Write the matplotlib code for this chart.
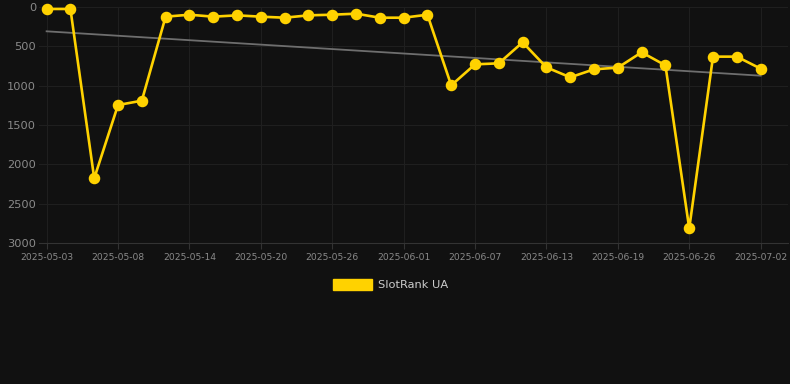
import numpy as np
import matplotlib.pyplot as plt

# rank per data point (lower is better, axis is inverted)
ranks = [25, 25, 2178, 1246, 1191, 123, 98, 123, 106, 123, 136, 106, 98, 85, 136, 136,
         98, 996, 729, 716, 449, 767, 894, 792, 771, 576, 742, 2814, 631, 631, 784]
tick_labels = ["2025-05-03", "2025-05-08", "2025-05-14", "2025-05-20", "2025-05-26",
               "2025-06-01", "2025-06-07", "2025-06-13", "2025-06-19", "2025-06-26",
               "2025-07-02"]
y_ticks = [0, 500, 1000, 1500, 2000, 2500, 3000]
series_name = "SlotRank UA"

bg = "#111111"
gold = "#FFD200"

x = np.arange(len(ranks))
slope, intercept = np.polyfit(x, ranks, 1)

fig = plt.figure(figsize=(7.9, 3.84), dpi=100, facecolor=bg)
ax = fig.add_axes([39 / 790, 1 - 243 / 384, 749 / 790, 236 / 384])
ax.set_facecolor(bg)

ax.plot(x, slope * x + intercept, color="#6e6e6e", lw=1.3, zorder=2)
ax.plot(x, ranks, color=gold, lw=1.9, marker="o", markersize=7.3,
        markerfacecolor=gold, markeredgecolor=gold, zorder=3, clip_on=False)

ax.set_ylim(3000, 0)
ax.set_xlim(-0.32, 31.15)
ax.set_yticks(y_ticks)
ax.set_xticks(x[::3])
ax.set_xticklabels(tick_labels)

ax.grid(True, color="#1f1f1f", lw=0.8)
ax.set_axisbelow(True)
for side in ["top", "right", "left"]:
    ax.spines[side].set_visible(False)
ax.spines["bottom"].set_color("#333333")
ax.tick_params(axis="x", colors="#333333", labelcolor="#8a8a8a", labelsize=6.6, length=4, pad=3)
ax.tick_params(axis="y", length=0, labelcolor="#8a8a8a", labelsize=8.2, pad=2)

# legend drawn as a box + text under the axes
fig.patches.append(plt.Rectangle((333 / 790, 1 - 290 / 384), 39 / 790, 11 / 384,
                                 transform=fig.transFigure, color=gold, figure=fig))
fig.text(378 / 790, 1 - 285 / 384, series_name, color="#cccccc", fontsize=8.2, va="center")

plt.savefig("out.png", dpi=100, facecolor=bg)
